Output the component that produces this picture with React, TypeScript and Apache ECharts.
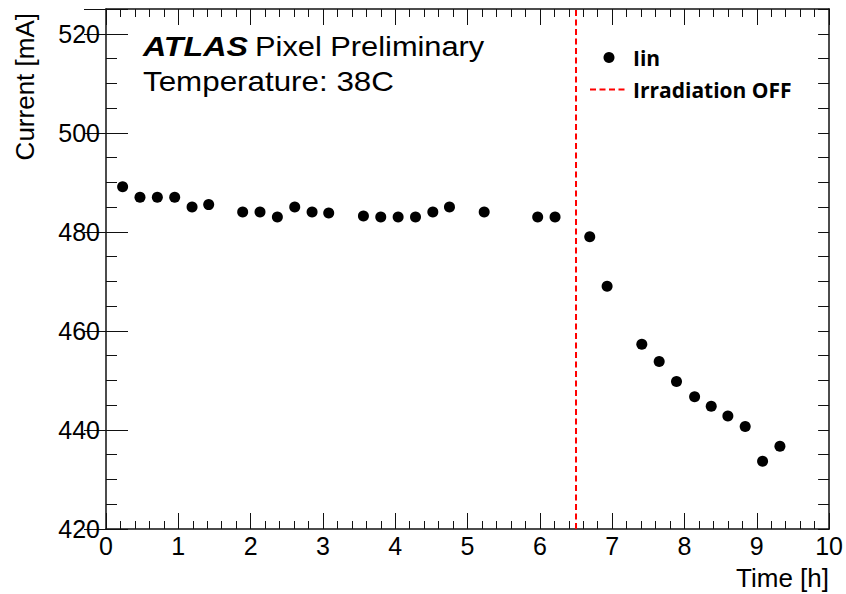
import React, { useEffect, useRef } from "react";
import * as echarts from "echarts";

// Data
const timeH: number[] = [
  0.23, 0.47, 0.71, 0.95, 1.19, 1.42, 1.89, 2.13, 2.37, 2.61, 2.85, 3.08, 3.56, 3.8, 4.04, 4.28,
  4.52, 4.75, 5.23, 5.97, 6.21, 6.69, 6.93, 7.41, 7.65, 7.89, 8.14, 8.37, 8.6, 8.84, 9.08, 9.32,
];
const currentMA: number[] = [
  489.1, 487, 487, 487, 485, 485.5, 484, 484, 483, 485, 484, 483.8, 483.2, 483, 483, 483,
  484, 485, 484, 483, 483, 479, 469, 457.3, 453.8, 449.8, 446.7, 444.8, 442.8, 440.7, 433.7, 436.7,
];
const irradiationOffTime = 6.5;
const xRange: [number, number] = [0, 10];
const yRange: [number, number] = [420, 525];
const seriesNames = ["Iin", "Irradiation OFF"];
const xTitle = "Time [h]";
const yTitle = "Current [mA]";
const headerBold = "ATLAS";
const headerRest = "Pixel Preliminary";
const subHeader = "Temperature: 38C";

const FRAME = "#111";
const FONT = "'Liberation Sans', Arial, Helvetica, sans-serif";

export default function App() {
  const ref = useRef<HTMLDivElement>(null);
  useEffect(() => {
    if (!ref.current) return;
    const chart = echarts.init(ref.current, undefined, { renderer: "svg" });
    const points = timeH.map((t, i) => [t, currentMA[i]]);
    const offLine = [
      [irradiationOffTime, yRange[0]],
      [irradiationOffTime, yRange[1]],
    ];
    const baseX = {
      type: "value" as const,
      min: xRange[0],
      max: xRange[1],
      interval: 1,
      splitLine: { show: false },
      axisLine: { show: true, onZero: false, lineStyle: { color: FRAME, width: 1.5 } },
      axisTick: { show: true, inside: true, length: 16, lineStyle: { color: FRAME, width: 1 } },
      minorTick: { show: true, splitNumber: 5, length: 8, lineStyle: { color: FRAME, width: 1 } },
    };
    const yMinor = (pos: "left" | "right", labels: boolean) => ({
      type: "value" as const,
      position: pos,
      min: yRange[0],
      max: yRange[1],
      interval: 5,
      splitLine: { show: false },
      axisLine: { show: true, onZero: false, lineStyle: { color: FRAME, width: 1.5 } },
      axisTick: { show: true, inside: true, length: 11, lineStyle: { color: FRAME, width: 1 } },
      axisLabel: labels
        ? {
            show: true,
            margin: 6,
            fontSize: 25,
            fontFamily: FONT,
            color: "#000",
            formatter: (v: number) => (v % 20 === 0 ? String(v) : ""),
          }
        : { show: false },
    });
    const yMajor = (pos: "left" | "right") => ({
      type: "value" as const,
      position: pos,
      min: yRange[0],
      max: yRange[1],
      interval: 20,
      splitLine: { show: false },
      axisLine: { show: false },
      axisTick: { show: true, inside: true, length: 22, lineStyle: { color: FRAME, width: 1 } },
      axisLabel: { show: false },
    });

    chart.setOption({
      animation: false,
      backgroundColor: "#fff",
      grid: { left: 106, right: 16, top: 9, bottom: 65, containLabel: false },
      xAxis: [
        {
          ...baseX,
          position: "bottom",
          axisLabel: { show: true, margin: 4, fontSize: 25, fontFamily: FONT, color: "#000" },
        },
        { ...baseX, position: "top", axisLabel: { show: false } },
      ],
      yAxis: [yMinor("left", true), yMajor("left"), yMinor("right", false), yMajor("right")],
      legend: {
        orient: "vertical",
        left: 584,
        top: 42,
        itemWidth: 38,
        itemHeight: 11,
        itemGap: 11,
        textStyle: { fontFamily: "'Open Sans', sans-serif", fontWeight: "bold", fontSize: 21, color: "#000" },
        data: [
          { name: seriesNames[0], icon: "circle" },
          { name: seriesNames[1], itemStyle: { opacity: 0 } },
        ],
      },
      series: [
        {
          name: seriesNames[0],
          type: "scatter",
          xAxisIndex: 0,
          yAxisIndex: 0,
          symbol: "circle",
          symbolSize: 11,
          itemStyle: { color: "#000", opacity: 1 },
          data: points,
          z: 3,
        },
        {
          name: seriesNames[1],
          type: "line",
          xAxisIndex: 0,
          yAxisIndex: 0,
          symbol: "none",
          lineStyle: { color: "#ff0000", width: 2, type: [6, 3.5] },
          itemStyle: { color: "#ff0000" },
          data: offLine,
          z: 2,
        },
      ],
      graphic: [
        {
          type: "text",
          x: 143,
          y: 46,
          scaleX: 1.15,
          style: {
            text: headerBold,
            font: `italic bold 28px ${FONT}`,
            fill: "#000",
            textVerticalAlign: "middle",
          },
        },
        {
          type: "text",
          x: 255,
          y: 46,
          scaleX: 1.1,
          style: { text: headerRest, font: `28px ${FONT}`, fill: "#000", textVerticalAlign: "middle" },
        },
        {
          type: "text",
          x: 143,
          y: 81,
          scaleX: 1.12,
          style: { text: subHeader, font: `28px ${FONT}`, fill: "#000", textVerticalAlign: "middle" },
        },
        {
          type: "text",
          x: 829,
          y: 578,
          style: {
            text: xTitle,
            font: `26px ${FONT}`,
            fill: "#000",
            textAlign: "right",
            textVerticalAlign: "middle",
          },
        },
        {
          type: "text",
          x: 25,
          y: 13,
          rotation: Math.PI / 2,
          style: {
            text: yTitle,
            font: `26px ${FONT}`,
            fill: "#000",
            textAlign: "right",
            textVerticalAlign: "middle",
          },
        },
      ],
    });
    return () => chart.dispose();
  }, []);
  return (
    <div
      ref={ref}
      style={{ position: "absolute", left: 0, top: 0, width: 846, height: 594 }}
    />
  );
}
